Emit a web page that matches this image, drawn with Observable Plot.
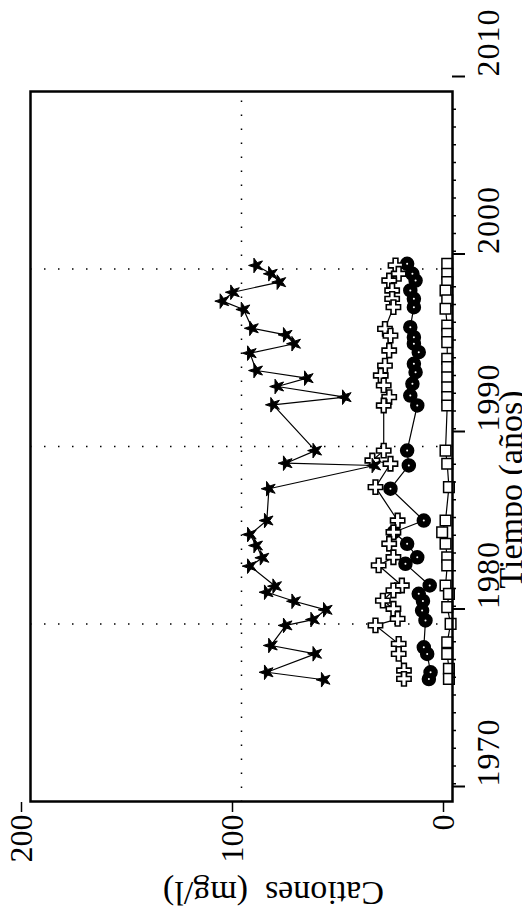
<!DOCTYPE html>
<html><head><meta charset="utf-8">
<script src="https://cdn.jsdelivr.net/npm/d3@7"></script>
<script src="https://cdn.jsdelivr.net/npm/@observablehq/plot@0.6"></script>
<style>
html,body{margin:0;padding:0;background:#fff;width:522px;height:918px;overflow:hidden;}
#rot{position:absolute;left:0;top:0;width:918px;height:522px;transform-origin:0 0;transform:translateY(918px) rotate(-90deg);}
g[aria-label="x-axis tick label"] text{letter-spacing:1px}
g[aria-label="xtitle"] text{letter-spacing:5px}
g[aria-label="ytitle"] text{letter-spacing:4px}
</style></head><body><div id="rot"></div>
<script>
// Estrellas
const starYear = [2000.2,1999.73,1999.26,1998.69,1998.19,1997.72,1996.66,1996.29,1995.79,1995.26,1994.28,1993.85,1993.38,1992.78,1992.35,1989.77,1989.06,1988.93,1987.62,1985.83,1985.04,1984.42,1983.73,1983.26,1982.13,1981.79,1981.28,1980.80,1980.25,1979.92,1978.79,1978.32,1977.28,1976.86];
const starVal  = [93,86,82,104,109,99,95,79,75,96,93,69,83,51,85,65,79,37,87,88,96,93,90,96,84,88,75,60,66,79,86,65,88,61];
// Cruces
const crossYear = [2000.2,1999.73,1999.35,1998.79,1998.32,1997.85,1996.63,1996.25,1995.41,1994.56,1994.0,1993.44,1992.78,1992.31,1989.77,1989.21,1989.03,1987.71,1985.83,1985.17,1984.52,1983.76,1983.30,1982.17,1981.89,1981.32,1980.86,1980.29,1979.92,1978.88,1978.32,1977.38,1976.91];
const crossVal  = [27,25.5,30,28.6,28.6,28,32,29.4,30,32,34,32.6,30,32.6,32.6,38,29.4,36.5,26,28,30,28,35,24,28,33,28,26,36.5,25.5,25.5,23,23];
// Círculos
const circYear = [2000.29,1999.73,1999.35,1998.79,1998.32,1997.85,1996.72,1996.16,1995.79,1995.31,1994.66,1994.19,1993.53,1992.87,1992.31,1989.77,1988.93,1987.62,1985.83,1985.17,1984.52,1983.76,1983.39,1982.17,1981.70,1981.3,1980.76,1980.20,1978.69,1978.31,1977.28,1976.90];
const circVal  = [21.5,19,17.5,20,18.3,18.3,20,18.3,18.3,16,18.3,17.5,19,20,16.7,21.5,20.7,29.4,13.6,27.8,21.5,16.7,22.3,10.8,16,14,14.4,12.8,13.6,12,10.4,11.2];
// Cuadrados
const sqYear = [2000.29,1999.73,1999.26,1998.79,1998.23,1997.76,1996.82,1996.35,1995.88,1994.94,1994.47,1993.90,1993.34,1992.78,1992.31,1989.77,1989.03,1987.71,1985.83,1985.17,1984.52,1983.76,1983.30,1982.17,1981.70,1980.95,1980.01,1978.97,1978.32,1977.48,1976.91];
const sqVal  = [2.5,2.5,2.5,3.3,2.5,3.3,2.5,2.5,2.5,2.5,2.5,2.5,2.5,2.5,2.5,3.3,2.5,1.7,3.3,4.9,3.3,2.5,2.5,3.3,1.7,2.5,0.9,2.5,2.5,1.7,1.7];

const decadeTicks = [1970,1980,1990,2000,2010];
const minorTicks = d3.range(1971,2010).filter(d => d % 10 !== 0);
const valueTicks = [0,100,200];
const xTitle = "Tiempo (años)";
const yTitle = "Cationes  (mg/l)";

const toRows = (ys, vs) => ys.map((y,i) => ({year: y, value: vs[i]}));
const stars = toRows(starYear, starVal);
const crosses = toRows(crossYear, crossVal);
const circles = toRows(circYear, circVal);
const squares = toRows(sqYear, sqVal);

const lineOpts = {x: "year", y: "value", stroke: "black", strokeWidth: 1.2, sort: "year"};

const chart = Plot.plot({
  width: 918, height: 522,
  marginLeft: 116, marginRight: 92, marginTop: 30, marginBottom: 70,
  style: {fontFamily: "Liberation Serif, serif", background: "white", color: "black"},
  x: {domain: [1970, 2010]},
  y: {domain: [0, 200]},
  marks: [
    Plot.ruleX([1980,1990,2000], {stroke: "black", strokeWidth: 1.5, strokeDasharray: "1.5,12.5"}),
    Plot.ruleY([100], {stroke: "black", strokeWidth: 1.5, strokeDasharray: "1.5,12.5"}),
    Plot.line(squares, lineOpts),
    Plot.line(circles, lineOpts),
    Plot.line(crosses, lineOpts),
    Plot.line(stars, lineOpts),
    Plot.dot(squares, {x: "year", y: "value", symbol: "square", r: 6, fill: "white", stroke: "black", strokeWidth: 1.5}),
    Plot.dot(circles, {x: "year", y: "value", symbol: "circle", r: 6.5, fill: "black", stroke: "black"}),
    Plot.dot(circles, {x: "year", y: "value", symbol: "circle", r: 1, fill: "white"}),
    Plot.dot(crosses, {x: "year", y: "value", symbol: "cross", r: 6, fill: "white", stroke: "black", strokeWidth: 1.6}),
    Plot.dot(stars, {x: "year", y: "value", symbol: "star", r: 4.6, fill: "black", stroke: "black", strokeWidth: 1}),
    Plot.frame({stroke: "black", strokeWidth: 2.5}),
    Plot.axisX({ticks: decadeTicks, tickSize: 13, tickPadding: 11, tickFormat: d => String(d), textAnchor: "start", dx: 15, fontSize: 32, label: null, strokeWidth: 2}),
    Plot.axisX({ticks: minorTicks, tickSize: 4, tickFormat: () => "", label: null, strokeWidth: 1.5}),
    Plot.axisY({ticks: valueTicks, tickSize: 10, tickPadding: 3, dy: -9, fontSize: 32, label: null, strokeWidth: 1.5}),
    Plot.text([xTitle], {frameAnchor: "bottom", text: d => d, textAnchor: "middle", dx: -43, dy: 59, lineAnchor: "middle", fontSize: 34, ariaLabel: "xtitle"}),
    Plot.text([yTitle], {frameAnchor: "left", text: d => d, textAnchor: "middle", rotate: -90, dx: -91, dy: 32, lineAnchor: "middle", fontSize: 34, ariaLabel: "ytitle"})
  ]
});
document.getElementById("rot").appendChild(chart);
</script>
</body></html>
